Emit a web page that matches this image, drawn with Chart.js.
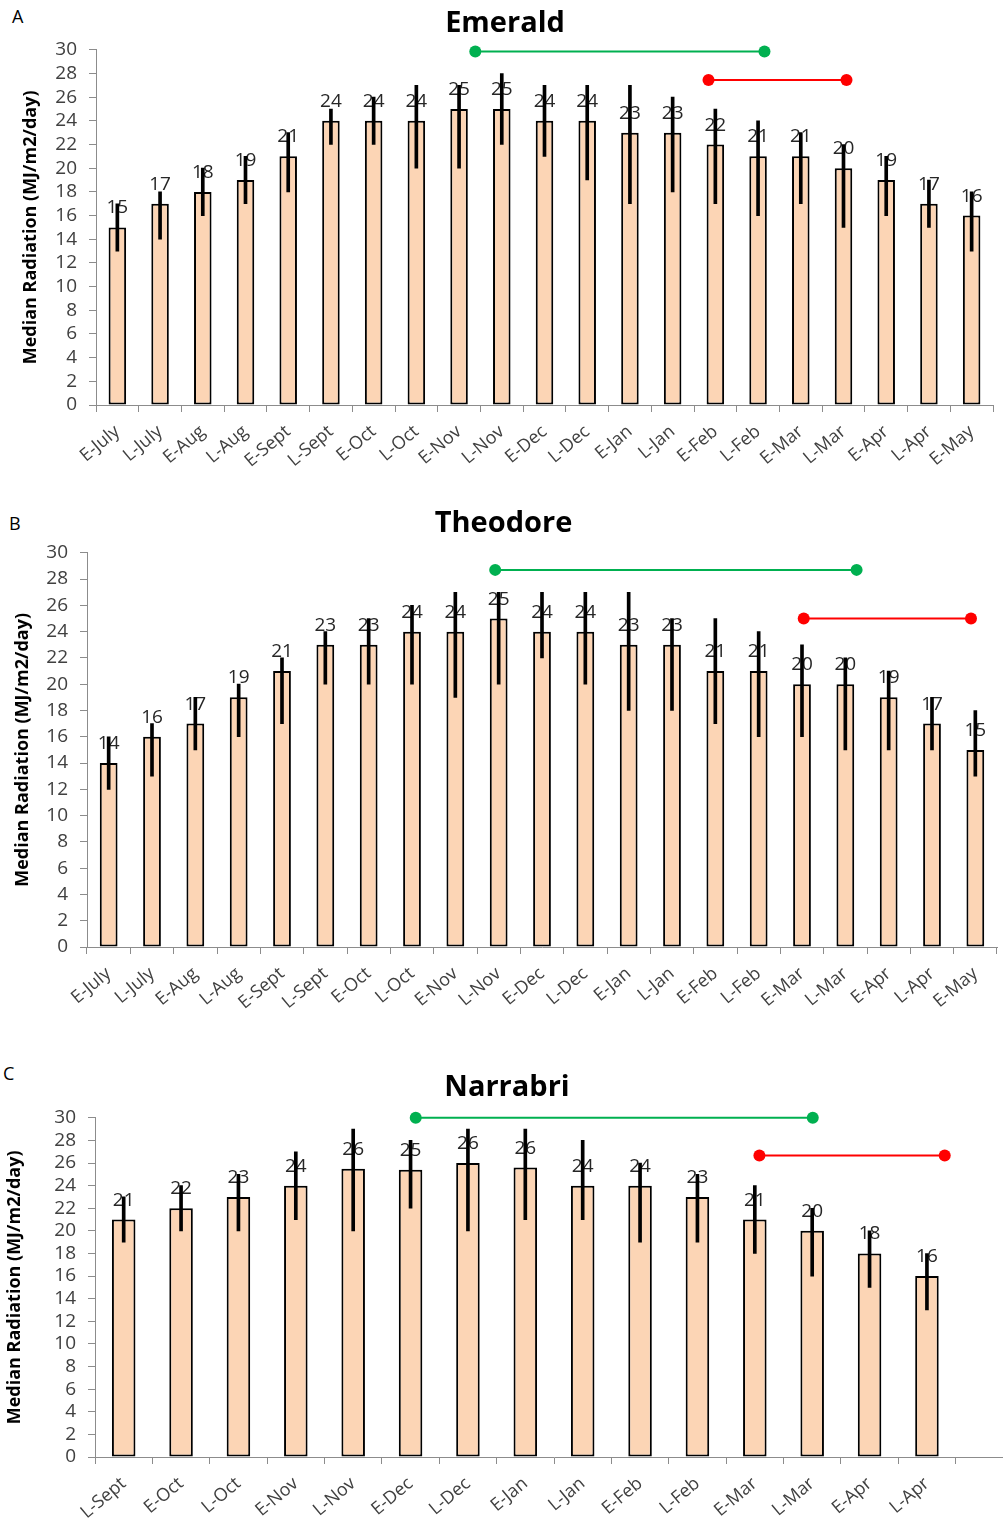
<!DOCTYPE html>
<html>
<head>
<meta charset="utf-8">
<title>Median radiation</title>
<script src="https://cdn.jsdelivr.net/npm/chart.js@4.4.0/dist/chart.umd.min.js"></script>
<style>
  html, body { margin: 0; padding: 0; background: #fff; overflow: hidden; }
  body { width: 1003px; height: 1521px; position: relative; }
  canvas { position: absolute; left: 0; }
  .tag { position: absolute; font: 18px "Open Sans", sans-serif; color: #000; }
</style>
</head>
<body>
<div class="tag" style="left:12px;top:4px">A</div>
<div class="tag" style="left:9px;top:511px">B</div>
<div class="tag" style="left:3px;top:1061px">C</div>
<canvas id="chartA" width="1003" height="490" style="top:0px"></canvas>
<canvas id="chartB" width="1003" height="537" style="top:495px"></canvas>
<canvas id="chartC" width="1020" height="492" style="top:1050px"></canvas>
<script>
// Emerald
var emeraldLabels = ['E-July', 'L-July', 'E-Aug', 'L-Aug', 'E-Sept', 'L-Sept', 'E-Oct', 'L-Oct', 'E-Nov', 'L-Nov', 'E-Dec',
    'L-Dec', 'E-Jan', 'L-Jan', 'E-Feb', 'L-Feb', 'E-Mar', 'L-Mar', 'E-Apr', 'L-Apr', 'E-May'];
var emeraldMedian = [15, 17, 18, 19, 21, 24, 24, 24, 25, 25, 24, 24, 23, 23, 22, 21, 21, 20, 19, 17, 16];
var emeraldLow = [13, 14, 16, 17, 18, 22, 22, 20, 20, 22, 21, 19, 17, 18, 17, 16, 17, 15, 16, 15, 13];
var emeraldHigh = [17, 18, 20, 21, 23, 25, 26, 27, 27, 28, 27, 27, 27, 26, 25, 24, 23, 22, 21, 19, 18];
var emeraldGreen = [8.38, 15.15, 29.85];   // from, to (category index), level
var emeraldRed = [13.84, 17.07, 27.44];

// Theodore
var theodoreLabels = emeraldLabels.slice();
var theodoreMedian = [14, 16, 17, 19, 21, 23, 23, 24, 24, 25, 24, 24, 23, 23, 21, 21, 20, 20, 19, 17, 15];
var theodoreLow = [12, 13, 15, 16, 17, 20, 20, 20, 19, 20, 22, 20, 18, 18, 17, 16, 16, 15, 15, 15, 13];
var theodoreHigh = [16, 17, 19, 20, 22, 24, 25, 26, 27, 27, 27, 27, 27, 25, 25, 24, 23, 22, 21, 19, 18];
var theodoreGreen = [8.92, 17.26, 28.7];
var theodoreRed = [16.04, 19.9, 25.0];

// Narrabri (last slot left empty)
var narrabriLabels = ['L-Sept', 'E-Oct', 'L-Oct', 'E-Nov', 'L-Nov', 'E-Dec', 'L-Dec', 'E-Jan', 'L-Jan', 'E-Feb', 'L-Feb',
    'E-Mar', 'L-Mar', 'E-Apr', 'L-Apr', ''];
var narrabriMedian = [21, 22, 23, 24, 25.5, 25.4, 26, 25.6, 24, 24, 23, 21, 20, 18, 16, null];
var narrabriLow = [19, 20, 20, 21, 20, 22, 20, 21, 21, 19, 19, 18, 16, 15, 13, null];
var narrabriHigh = [23, 24, 25, 27, 29, 28, 29, 29, 28, 26, 25, 24, 22, 20, 18, null];
var narrabriGreen = [5.09, 12.01, 30.0];
var narrabriRed = [11.08, 14.31, 26.67];

var FONT = 'Open Sans';

// numbers printed above each bar
var valueLabels = {
    id: 'valueLabels',
    afterDatasetDraw: function(chart, args) {
        if (args.index !== 0) return;
        var ctx = chart.ctx;
        var values = chart.data.datasets[0].data;
        ctx.save();
        ctx.font = '19px "' + FONT + '"';
        ctx.fillStyle = '#262626';
        ctx.textAlign = 'center';
        ctx.textBaseline = 'alphabetic';
        args.meta.data.forEach(function(bar, i) {
            if (values[i] == null) return;
            ctx.fillText(Math.round(values[i]), bar.x, bar.y - 14);
        });
        ctx.restore();
    }
};

function spanLine(span, colour) {
    return {
        type: 'line',
        xAxisID: 'xr',
        data: [{x: span[0], y: span[2]}, {x: span[1], y: span[2]}],
        borderColor: colour,
        backgroundColor: colour,
        borderWidth: 2,
        pointRadius: 6,
        pointBorderWidth: 0,
        clip: false,
        order: 0
    };
}

function makePanel(id, p) {
    var n = p.labels.length;
    var ranges = p.low.map(function(v, i) {
        return v == null ? null : [v, p.high[i]];
    });

    return new Chart(document.getElementById(id), {
        type: 'bar',
        data: {
            labels: p.labels,
            datasets: [
                {
                    label: 'Median',
                    data: p.median,
                    xAxisID: 'x',
                    backgroundColor: '#FCD5B5',
                    borderColor: '#000',
                    borderWidth: 2,
                    borderSkipped: false,
                    barPercentage: 0.41,
                    categoryPercentage: 1,
                    grouped: false,
                    order: 3
                },
                {
                    label: 'Range',
                    data: ranges,
                    xAxisID: 'x',
                    backgroundColor: '#000',
                    borderWidth: 0,
                    barThickness: 3,
                    grouped: false,
                    order: 2
                },
                spanLine(p.green, '#00B050'),
                spanLine(p.red, '#FF0000')
            ]
        },
        options: {
            responsive: false,
            animation: false,
            layout: {
                padding: {left: p.padLeft, right: p.padRight, top: 0, bottom: 0}
            },
            plugins: {
                legend: {display: false},
                tooltip: {enabled: false},
                title: {
                    display: true,
                    text: p.title,
                    color: '#000',
                    font: {family: FONT, size: 29, weight: 'bold'},
                    padding: {top: p.titleTop, bottom: p.titleBottom}
                }
            },
            scales: {
                x: {
                    type: 'category',
                    offset: true,
                    grid: {offset: true, drawOnChartArea: false, tickLength: 7, color: '#8c8c8c'},
                    border: {color: '#8c8c8c'},
                    ticks: {
                        autoSkip: false,
                        minRotation: 40,
                        maxRotation: 40,
                        padding: 9,
                        color: '#404040',
                        font: {family: FONT, size: 18}
                    },
                    afterFit: function(axis) { axis.height = 85; }
                },
                xr: {type: 'linear', display: false, offset: false, min: -0.5, max: n - 0.5},
                y: {
                    min: 0,
                    max: 30,
                    ticks: {stepSize: 2, autoSkip: false, padding: 12, color: '#404040', font: {family: FONT, size: 19}},
                    grid: {drawOnChartArea: false, tickLength: 7, color: '#8c8c8c'},
                    border: {color: '#8c8c8c'},
                    title: {
                        display: true,
                        text: 'Median Radiation (MJ/m2/day)',
                        color: '#000',
                        font: {family: FONT, size: 18, weight: 'bold'},
                        padding: {top: 3, bottom: 3}
                    },
                    afterFit: function(axis) { axis.width = p.yWidth; }
                }
            }
        },
        plugins: [valueLabels]
    });
}

makePanel('chartA', {
    title: 'Emerald', labels: emeraldLabels, median: emeraldMedian, low: emeraldLow, high: emeraldHigh,
    green: emeraldGreen, red: emeraldRed,
    padLeft: 17, padRight: 10, yWidth: 79, titleTop: 6, titleBottom: 9
});
makePanel('chartB', {
    title: 'Theodore', labels: theodoreLabels, median: theodoreMedian, low: theodoreLow, high: theodoreHigh,
    green: theodoreGreen, red: theodoreRed,
    padLeft: 9, padRight: 5, yWidth: 78, titleTop: 11, titleBottom: 12
});
makePanel('chartC', {
    title: 'Narrabri', labels: narrabriLabels, median: narrabriMedian, low: narrabriLow, high: narrabriHigh,
    green: narrabriGreen, red: narrabriRed,
    padLeft: 1, padRight: 7, yWidth: 94, titleTop: 20, titleBottom: 13
});
</script>
</body>
</html>
